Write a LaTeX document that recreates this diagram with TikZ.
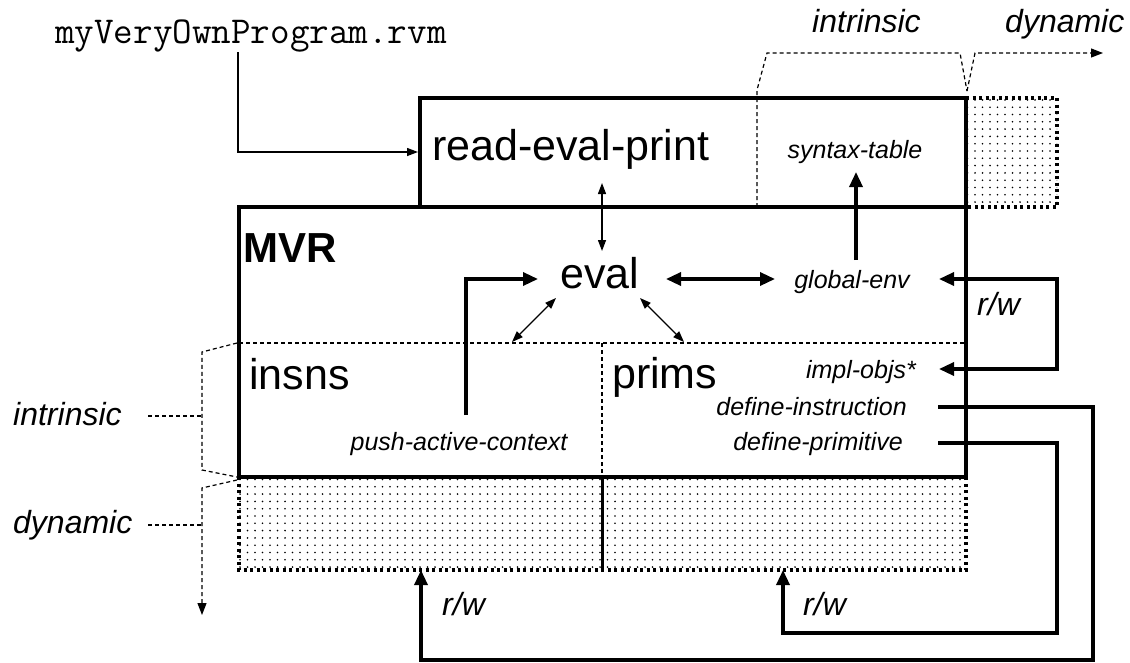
\documentclass[tikz,border=0pt]{standalone}
\usepackage{fontspec}
\setmainfont{Liberation Sans}
\usetikzlibrary{arrows.meta,patterns}

\pgfdeclarepatternformonly{stipple}{\pgfpoint{-1pt}{-1pt}}{\pgfpoint{1pt}{1pt}}{\pgfpoint{7.5pt}{7.3pt}}{%
    \pgfpathcircle{\pgfpointorigin}{0.9pt}\pgfusepath{fill}}

\begin{document}
\begin{tikzpicture}[
    x=1pt, y=-1pt,
    bigtext/.style={font=\fontsize{43}{48}\selectfont, inner sep=0pt},
    smalltext/.style={font=\fontsize{25}{30}\selectfont\itshape, inner sep=0pt},
    sidetext/.style={font=\fontsize{32}{38}\selectfont\itshape, inner sep=0pt, anchor=base west},
    rwtext/.style={font=\fontsize{32}{36}\selectfont\itshape, inner sep=0pt, anchor=base west},
    monotext/.style={font=\fontsize{38}{42}\selectfont\ttfamily, inner sep=0pt},
    box/.style={draw, line width=4pt},
    region/.style={pattern=stipple, pattern color=black},
    dotborder/.style={line width=4pt, dash pattern=on 3pt off 3.5pt},
    guide/.style={line width=1.2pt, dash pattern=on 4pt off 3pt},
    guidearrow/.style={guide, -{Triangle[length=12pt,width=9pt]}},
    link/.style={line width=1.3pt, -{Triangle[length=11pt,width=8pt]}},
    twoway/.style={line width=1.3pt, {Triangle[length=11pt,width=8pt]}-{Triangle[length=11pt,width=8pt]}},
    flow/.style={line width=3.3pt, -{Triangle[length=15pt,width=13pt]}},
    twowayflow/.style={line width=3.3pt, {Triangle[length=15pt,width=13pt]}-{Triangle[length=15pt,width=13pt]}}
]
\useasboundingbox (0,0) rectangle (1130,662);

% dynamic parts
\fill[region] (966,98) rectangle (1057,207);
\draw[dotborder] (966,98) -- (1057,98) -- (1057,207) -- (966,207);
\fill[region] (239,477) rectangle (966,570);
\draw[dotborder] (239,477) -- (239,570) -- (966,570) -- (966,477);
\draw[line width=3pt] (602,477) -- (602,570);

% inner dividers
\draw[guide] (239,343) -- (966,343);
\draw[guide] (602,343) -- (602,477);

% brackets
\draw[guide] (757,207) -- (757,90) -- (767,53) -- (960,53) -- (967,91);
\draw[guidearrow] (967,91) -- (975,53) -- (1103,53);
\draw[guide] (237,343) -- (202,352) -- (202,470) -- (237,477);
\draw[guidearrow] (237,480) -- (202,488) -- (202,615);
\draw[guide] (148,416) -- (202,416);
\draw[guide] (148,525) -- (202,525);

% boxes
\draw[box] (420,98) rectangle (966,207);
\draw[box] (239,207) rectangle (966,477);

\node[monotext, anchor=base west] (prog) at (55,43) {myVeryOwnProgram.rvm};
\node[bigtext, anchor=base west] (rep) at (432,160) {read-eval-print};
\node[smalltext, anchor=base] (syntab) at (855,158) {syntax-table};
\node[bigtext, anchor=base west, font=\fontsize{42}{48}\selectfont\bfseries] (mvr) at (243,262) {MVR};
\node[bigtext, anchor=base] (eval) at (600,288) {eval};
\node[smalltext, anchor=base] (genv) at (852,288) {global-env};
\node[bigtext, anchor=base west] (insns) at (249,389) {insns};
\node[bigtext, anchor=base west] (prims) at (612,388) {prims};
\node[smalltext, anchor=base east] (implobjs) at (916,378) {impl-objs*};
\node[smalltext, anchor=base east] (definsn) at (907,415) {define-instruction};
\node[smalltext, anchor=base east] (defprim) at (903,450) {define-primitive};
\node[smalltext, anchor=base] (pushctx) at (459,450) {push-active-context};
\node[rwtext] (rwtop) at (977,315) {r/w};
\node[rwtext] (rwinsns) at (442,615) {r/w};
\node[rwtext] (rwprims) at (803,615) {r/w};
\node[sidetext] (intrleft) at (13,425) {intrinsic};
\node[sidetext] (dynleft) at (13,533) {dynamic};
\node[sidetext] (intrtop) at (812,32) {intrinsic};
\node[sidetext] (dyntop) at (1005,32) {dynamic};

\coordinate (progout) at (238,52);
\coordinate (repin) at (418,152);
\coordinate (repout) at (602,183);
\coordinate (evaltop) at (602,251);
\coordinate (evalsw) at (556,298);
\coordinate (evalse) at (640,298);
\coordinate (insnsin) at (512,342);
\coordinate (primsin) at (684,342);
\coordinate (evaleast) at (666,279);
\coordinate (genvwest) at (775,279);
\coordinate (genvtop) at (856,260);
\coordinate (syntabin) at (856,172);
\coordinate (pushout) at (466,415);
\coordinate (evalwest) at (538,279);
\coordinate (genveast) at (939,279);
\coordinate (implin) at (939,369);
\coordinate (definsnout) at (938,407);
\coordinate (defprimout) at (938,443);
\coordinate (insnsdyn) at (421,570);
\coordinate (primsdyn) at (783,570);

\draw[link] (progout) |- (repin);
\draw[twoway] (repout) -- (evaltop);
\draw[twoway] (evalsw) -- (insnsin);
\draw[twoway] (evalse) -- (primsin);
\draw[twowayflow] (evaleast) -- (genvwest);
\draw[flow] (genvtop) -- (syntabin);
\draw[flow] (pushout) |- (evalwest);
\draw[twowayflow] (genveast) -- (1057,279) -- (1057,369) -- (implin);
\draw[flow] (definsnout) -- (1093,407) -- (1093,660) -| (insnsdyn);
\draw[flow] (defprimout) -- (1057,443) -- (1057,633) -| (primsdyn);

\end{tikzpicture}
\end{document}
